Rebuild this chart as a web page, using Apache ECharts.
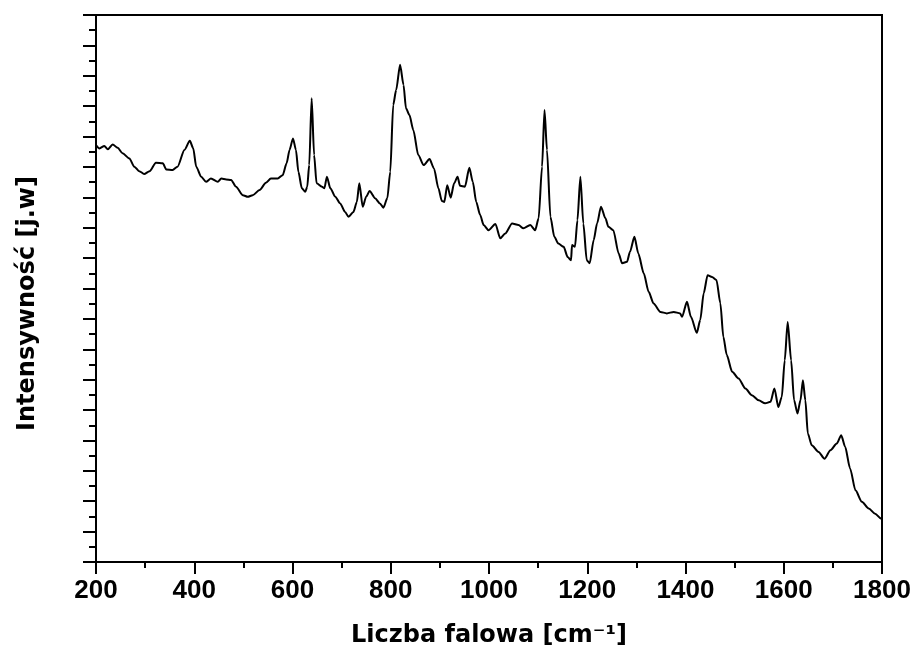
<!DOCTYPE html>
<html>
<head>
<meta charset="utf-8">
<script src="https://cdn.jsdelivr.net/npm/echarts@6/dist/echarts.min.js"></script>
<style>
  html, body { margin: 0; padding: 0; background: #fff; }
  #chart { width: 917px; height: 661px; }
</style>
</head>
<body>
<div id="chart"></div>
<script>
// Raman spectrum: wavenumber [cm-1] and relative intensity [a.u.]
const wavenumber = [
  200, 207, 217, 224, 234, 244, 254, 268, 278, 288, 298, 309, 322, 336, 343, 356, 366, 380, 391, 398,
  404, 414, 424, 434, 448, 455, 465, 475, 485, 499, 509, 519, 533, 546, 556, 570, 580, 588, 594, 601,
  607, 612, 619, 626, 630, 634, 639, 644, 649, 660, 665, 670, 677, 687, 697, 707, 714, 724, 731, 736,
  743, 750, 757, 768, 778, 785, 793, 799, 805, 811, 819, 826, 831, 838, 846, 856, 867, 879, 888, 897,
  904, 909, 915, 922, 929, 936, 941, 951, 960, 967, 974, 982, 989, 999, 1013, 1023, 1033, 1047, 1060, 1070,
  1084, 1094, 1101, 1108, 1113, 1118, 1125, 1133, 1141, 1152, 1160, 1167, 1169, 1175, 1180, 1186, 1192, 1199, 1205, 1213,
  1220, 1228, 1237, 1243, 1253, 1264, 1271, 1281, 1287, 1296, 1304, 1315, 1325, 1335, 1349, 1362, 1376, 1389, 1393, 1403,
  1411, 1423, 1430, 1437, 1445, 1454, 1463, 1471, 1477, 1484, 1495, 1508, 1522, 1535, 1549, 1562, 1573, 1581, 1589, 1596,
  1602, 1608, 1615, 1621, 1628, 1634, 1639, 1644, 1649, 1657, 1671, 1683, 1695, 1708, 1717, 1725, 1735, 1746, 1759, 1773,
  1786, 1798, 1800
];
const intensity = [
  13.72, 13.61, 13.69, 13.58, 13.74, 13.63, 13.45, 13.28, 13.01, 12.86, 12.77, 12.86, 13.14, 13.12, 12.92, 12.90, 13.01, 13.56, 13.86, 13.61,
  13.01, 12.68, 12.51, 12.62, 12.51, 12.62, 12.59, 12.57, 12.35, 12.07, 12.02, 12.07, 12.24, 12.48, 12.62, 12.62, 12.73, 13.12, 13.56, 13.94,
  13.56, 12.84, 12.30, 12.18, 12.35, 13.06, 15.26, 13.39, 12.46, 12.35, 12.30, 12.68, 12.30, 12.02, 11.80, 11.52, 11.36, 11.52, 11.85, 12.46,
  11.69, 12.02, 12.21, 11.97, 11.80, 11.66, 11.97, 12.84, 15.04, 15.53, 16.36, 15.70, 14.93, 14.71, 14.21, 13.39, 13.06, 13.26, 12.95, 12.30,
  11.88, 11.85, 12.40, 11.99, 12.46, 12.68, 12.38, 12.35, 12.97, 12.51, 11.85, 11.42, 11.09, 10.92, 11.12, 10.65, 10.81, 11.14, 11.09, 10.98,
  11.09, 10.92, 11.31, 13.01, 14.87, 13.56, 11.36, 10.70, 10.48, 10.37, 10.04, 9.93, 10.43, 10.37, 11.25, 12.68, 11.14, 9.93, 9.83, 10.59,
  11.14, 11.69, 11.31, 11.03, 10.92, 10.15, 9.83, 9.88, 10.21, 10.70, 10.15, 9.50, 8.89, 8.51, 8.23, 8.18, 8.23, 8.18, 8.07, 8.56,
  8.07, 7.54, 7.96, 8.84, 9.44, 9.38, 9.28, 8.51, 7.41, 6.81, 6.26, 6.04, 5.71, 5.49, 5.32, 5.22, 5.27, 5.71, 5.10, 5.43,
  6.64, 7.90, 6.64, 5.32, 4.89, 5.32, 5.98, 5.32, 4.23, 3.84, 3.62, 3.40, 3.68, 3.90, 4.17, 3.79, 3.08, 2.36, 1.98, 1.76,
  1.59, 1.43, 1.40
];

const xTitle = 'Liczba falowa [cm⁻¹]';
const yTitle = 'Intensywność [j.w]';

const chart = echarts.init(document.getElementById('chart'), null, { renderer: 'canvas' });

const titleFont = 'DejaVu Sans';
const labelFont = 'Liberation Sans';

chart.setOption({
  animation: false,
  backgroundColor: '#ffffff',
  grid: {
    left: 96, right: 35, top: 15, bottom: 99,
    show: true, borderColor: '#000', borderWidth: 2, backgroundColor: 'transparent'
  },
  xAxis: {
    type: 'value',
    min: 200, max: 1800, interval: 200,
    name: xTitle,
    nameLocation: 'middle',
    nameGap: 62,
    nameTextStyle: { fontFamily: titleFont, fontWeight: 'bold', fontSize: 24, color: '#000' },
    axisLine: { show: true, lineStyle: { color: '#000', width: 2 } },
    axisTick: { show: true, inside: false, length: 12, lineStyle: { color: '#000', width: 2 } },
    minorTick: { show: true, splitNumber: 2, length: 6, lineStyle: { color: '#000', width: 2 } },
    axisLabel: {
      margin: 16, color: '#000', fontFamily: labelFont, fontWeight: 'bold', fontSize: 26,
      formatter: v => String(v)
    },
    splitLine: { show: false }
  },
  yAxis: {
    type: 'value',
    min: 0, max: 18, interval: 1,
    name: yTitle,
    nameLocation: 'middle',
    nameGap: 56,
    nameTextStyle: { fontFamily: titleFont, fontWeight: 'bold', fontSize: 24, color: '#000', padding: [0, 30, 0, 0] },
    axisLine: { show: true, lineStyle: { color: '#000', width: 2 } },
    axisTick: { show: true, inside: false, length: 13, lineStyle: { color: '#000', width: 2 } },
    minorTick: { show: true, splitNumber: 2, length: 7, lineStyle: { color: '#000', width: 2 } },
    axisLabel: { show: false },
    splitLine: { show: false }
  },
  series: [{
    type: 'line',
    data: wavenumber.map((w, i) => [w, intensity[i]]),
    showSymbol: false,
    smooth: 0.25,
    smoothMonotone: 'x',
    lineStyle: { color: '#000', width: 2 },
    clip: true
  }]
});
</script>
</body>
</html>
